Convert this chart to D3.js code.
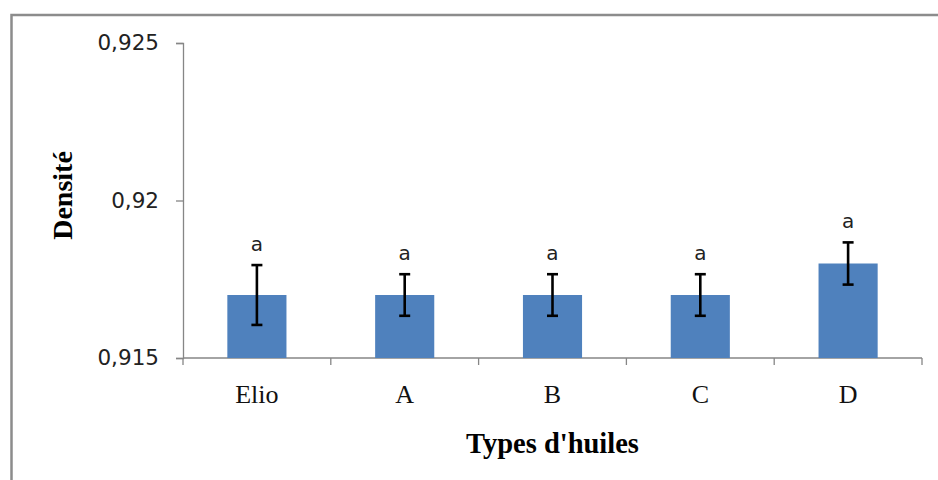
<!DOCTYPE html>
<html>
<head>
<meta charset="utf-8">
<script src="https://cdn.jsdelivr.net/npm/d3@7/dist/d3.min.js"></script>
<style>
  html, body { margin: 0; padding: 0; background: #fff; }
  svg { display: block; }
</style>
</head>
<body>
<svg id="chart" width="938" height="480"></svg>
<script>
// Density of each oil type with standard deviation and significance letter
const categories = ["Elio", "A", "B", "C", "D"];
const densities  = [0.917, 0.917, 0.917, 0.917, 0.918];
const errors     = [0.00095, 0.00066, 0.00066, 0.00066, 0.00067];
const letters    = ["a", "a", "a", "a", "a"];
const yTicks     = [0.915, 0.92, 0.925];
const yTickLabels = ["0,915", "0,92", "0,925"];

const svg = d3.select("#chart");
const W = 938, H = 480;
const plot = { left: 183, right: 922, top: 43, bottom: 358 };

// Chart frame
svg.append("path")
  .attr("d", `M11.5,${H + 5} V15 H${W + 5}`)
  .attr("fill", "none")
  .attr("stroke", "#8c8c8c")
  .attr("stroke-width", 2.5);

const x = d3.scaleBand()
  .domain(categories)
  .range([plot.left, plot.right])
  .paddingInner(0.6)
  .paddingOuter(0.3);

const y = d3.scaleLinear()
  .domain([0.915, 0.925])
  .range([plot.bottom, plot.top]);

const axisColor = "#868686";

// Y axis
const yAxis = svg.append("g")
  .attr("transform", `translate(${plot.left},0)`)
  .call(d3.axisLeft(y)
    .tickValues(yTicks)
    .tickFormat((d, i) => yTickLabels[i])
    .tickSizeOuter(0)
    .tickSize(7)
    .tickPadding(17));
yAxis.select(".domain").attr("stroke", axisColor).attr("stroke-width", 1.3);
yAxis.selectAll(".tick line").attr("stroke", axisColor).attr("stroke-width", 1.3);
yAxis.selectAll(".tick text")
  .attr("fill", "#222")
  .style("font-family", "'DejaVu Sans', sans-serif")
  .style("font-size", "21.5px");

// X axis: category boundaries carry the tick marks
const bounds = d3.range(categories.length + 1).map(i => plot.left + i * (plot.right - plot.left) / categories.length);
svg.append("line")
  .attr("x1", plot.left).attr("x2", plot.right)
  .attr("y1", plot.bottom).attr("y2", plot.bottom)
  .attr("stroke", axisColor).attr("stroke-width", 1.3);
svg.append("g").selectAll("line")
  .data(bounds)
  .join("line")
  .attr("x1", d => d).attr("x2", d => d)
  .attr("y1", plot.bottom).attr("y2", plot.bottom + 7)
  .attr("stroke", axisColor).attr("stroke-width", 1.3);

svg.append("g").selectAll("text")
  .data(categories)
  .join("text")
  .attr("x", d => x(d) + x.bandwidth() / 2)
  .attr("y", 403)
  .attr("text-anchor", "middle")
  .attr("fill", "#111")
  .style("font-family", "'Liberation Serif', 'Times New Roman', serif")
  .style("font-size", "26px")
  .text(d => d);

// Bars
svg.append("g").selectAll("rect")
  .data(categories)
  .join("rect")
  .attr("x", d => x(d))
  .attr("width", x.bandwidth())
  .attr("y", (d, i) => y(densities[i]))
  .attr("height", (d, i) => y(0.915) - y(densities[i]))
  .attr("fill", "#4f81bd");

// Error bars
const cap = 5.5;
const eb = svg.append("g")
  .attr("stroke", "#000")
  .attr("stroke-width", 2.6)
  .attr("fill", "none");
categories.forEach((c, i) => {
  const cx = x(c) + x.bandwidth() / 2;
  const yHi = y(densities[i] + errors[i]);
  const yLo = y(densities[i] - errors[i]);
  eb.append("line").attr("x1", cx).attr("x2", cx).attr("y1", yHi).attr("y2", yLo);
  eb.append("line").attr("x1", cx - cap).attr("x2", cx + cap).attr("y1", yHi).attr("y2", yHi);
  eb.append("line").attr("x1", cx - cap).attr("x2", cx + cap).attr("y1", yLo).attr("y2", yLo);
});

// Significance letters
svg.append("g").selectAll("text")
  .data(categories)
  .join("text")
  .attr("x", d => x(d) + x.bandwidth() / 2)
  .attr("y", (d, i) => y(densities[i] + errors[i]) - 14)
  .attr("text-anchor", "middle")
  .attr("fill", "#222")
  .style("font-family", "'DejaVu Sans', sans-serif")
  .style("font-size", "20px")
  .text((d, i) => letters[i]);

// Axis titles
svg.append("text")
  .attr("x", (plot.left + plot.right) / 2)
  .attr("y", 453)
  .attr("text-anchor", "middle")
  .attr("fill", "#000")
  .style("font-family", "'Liberation Serif', 'Times New Roman', serif")
  .style("font-size", "28.5px")
  .style("font-weight", "bold")
  .text("Types d'huiles");

svg.append("text")
  .attr("transform", `translate(72,${(plot.top + plot.bottom) / 2 - 5}) rotate(-90)`)
  .attr("text-anchor", "middle")
  .attr("fill", "#000")
  .style("font-family", "'Liberation Serif', 'Times New Roman', serif")
  .style("font-size", "28px")
  .style("font-weight", "bold")
  .text("Densité");
</script>
</body>
</html>
